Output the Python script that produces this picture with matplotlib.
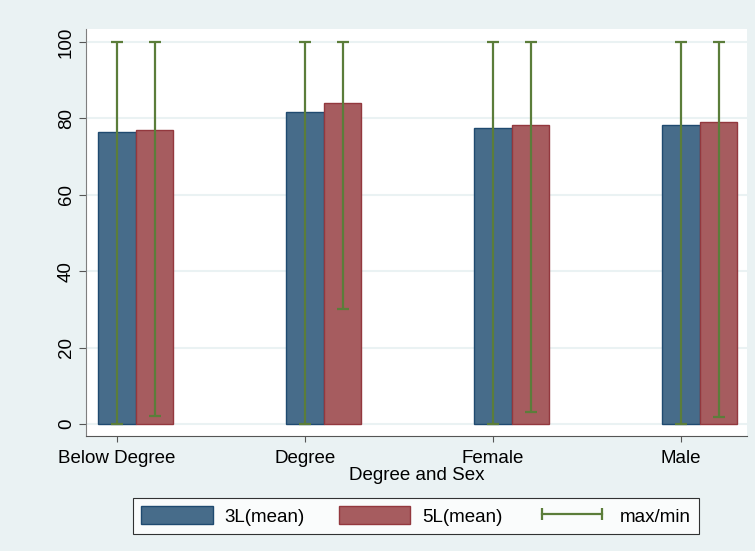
import numpy as np
import matplotlib
matplotlib.use('Agg')
import matplotlib.pyplot as plt
from matplotlib.patches import Patch
from matplotlib.lines import Line2D

plt.rcParams['font.family'] = ['Liberation Sans', 'DejaVu Sans']

# data
groups = ["Below Degree", "Degree", "Female", "Male"]
mean_3l = [76.4, 81.8, 77.5, 78.3]
mean_5l = [77.0, 84.1, 78.3, 79.0]
max_3l = [100, 100, 100, 100]
min_3l = [0, 0, 0, 0]
max_5l = [100, 100, 100, 100]
min_5l = [2.1, 30.0, 3.1, 1.9]

bg = "#EAF2F3"
blue_fill, blue_edge = "#476C8A", "#1F4A70"
red_fill, red_edge = "#A65C5F", "#93383E"
green = "#5B7D3A"

fig = plt.figure(figsize=(7.55, 5.51), dpi=100, facecolor=bg)
ax = fig.add_axes([0.1139, 0.2087, 0.8755, 0.7387])
ax.set_facecolor("white")

x = np.arange(len(groups))
w = 0.2
ax.bar(x, mean_3l, width=w, color=blue_fill, edgecolor=blue_edge, linewidth=1, zorder=2)
ax.bar(x + w, mean_5l, width=w, color=red_fill, edgecolor=red_edge, linewidth=1, zorder=2)

m3 = np.array(mean_3l)
m5 = np.array(mean_5l)
ax.errorbar(x, m3, yerr=[m3 - np.array(min_3l), np.array(max_3l) - m3], fmt='none',
            ecolor=green, elinewidth=1.6, capsize=4.5, capthick=1.6, zorder=3)
ax.errorbar(x + w, m5, yerr=[m5 - np.array(min_5l), np.array(max_5l) - m5], fmt='none',
            ecolor=green, elinewidth=1.6, capsize=4.5, capthick=1.6, zorder=3)

ax.set_xlim(-0.165, 3.351)
ax.set_ylim(-3.14, 103.4)
ax.set_xticks(x)
ax.set_xticklabels(groups, fontsize=13.5)
ax.set_yticks(range(0, 101, 20))
ax.set_yticklabels([str(v) for v in range(0, 101, 20)], fontsize=13.5, rotation=90, va='center')
ax.yaxis.grid(True, color=bg, linewidth=1.5, zorder=0)
ax.set_axisbelow(True)

for s in ["top", "right"]:
    ax.spines[s].set_visible(False)
ax.spines["left"].set_color("#7F7F7F")
ax.spines["bottom"].set_color("#555555")
ax.tick_params(axis='x', length=4, color="#555555", pad=6)
ax.tick_params(axis='y', length=5, color="#555555", pad=3)
ax.set_xlabel("Degree and Sex", fontsize=13.5, labelpad=0)

handles = [Patch(facecolor=blue_fill, edgecolor=blue_edge),
           Patch(facecolor=red_fill, edgecolor=red_edge),
           Line2D([], [], color=green, linewidth=1.6, marker='|', markersize=8, markeredgewidth=1.6)]
leg = fig.legend(handles, ["3L(mean)", "5L(mean)", "max/min"], loc='center',
                 bbox_to_anchor=(0.551, 0.0635), ncol=3, fontsize=13.5, frameon=True,
                 fancybox=False, edgecolor="black", handlelength=3.8, handleheight=1.1,
                 numpoints=2, columnspacing=1.8, handletextpad=0.65, borderpad=0.45)
leg.get_frame().set_linewidth(0.8)

fig.savefig("out.png", dpi=100, facecolor=bg)
